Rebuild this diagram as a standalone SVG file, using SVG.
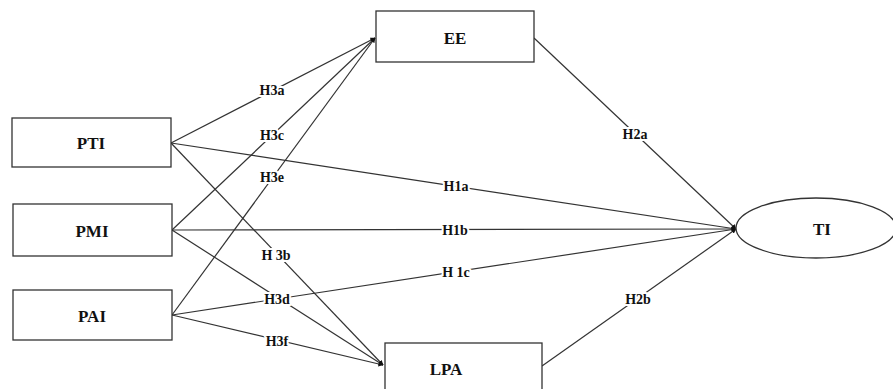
<svg xmlns="http://www.w3.org/2000/svg" width="893" height="389" viewBox="0 0 893 389">
<style>
.box{fill:#fff;stroke:#333;stroke-width:1.3}
.nt{font-family:"Liberation Serif",serif;font-weight:bold;font-size:17px;fill:#111;text-anchor:middle;dominant-baseline:central}
.ln{stroke:#333;stroke-width:1.2;fill:none;marker-end:url(#ah)}
.bg{fill:#fff}
.lb{font-family:"Liberation Serif",serif;font-weight:bold;font-size:14px;fill:#111;text-anchor:middle;dominant-baseline:central;stroke:#fff;stroke-width:4px;paint-order:stroke;stroke-linejoin:round}
</style>
<defs>
<marker id="ah" viewBox="0 0 10 10" refX="9" refY="5" markerWidth="5" markerHeight="5" orient="auto" markerUnits="userSpaceOnUse">
<path d="M0,0 L10,5 L0,10 z" fill="#111"/>
</marker>
</defs>
<rect width="893" height="389" fill="#fff"/>
<g id="connectors">
<line class="ln" x1="171" y1="143" x2="375" y2="38"/>
<line class="ln" x1="171" y1="143" x2="383" y2="365"/>
<line class="ln" x1="171" y1="143" x2="736" y2="229"/>
<line class="ln" x1="172" y1="230" x2="375" y2="38"/>
<line class="ln" x1="172" y1="230" x2="383" y2="365"/>
<line class="ln" x1="172" y1="230" x2="736" y2="229"/>
<line class="ln" x1="172" y1="315" x2="375" y2="38"/>
<line class="ln" x1="172" y1="315" x2="383" y2="365"/>
<line class="ln" x1="172" y1="315" x2="736" y2="229"/>
<line class="ln" x1="534" y1="38" x2="736" y2="229"/>
<line class="ln" x1="542" y1="366" x2="736" y2="229"/>
<rect class="bg" x="262" y="248" width="29" height="14"/>
<rect class="bg" x="443" y="265" width="27" height="14"/>
<text class="lb" x="272" y="90">H3a</text>
<text class="lb" x="272" y="135">H3c</text>
<text class="lb" x="272" y="177">H3e</text>
<text class="lb" x="276" y="255">H 3b</text>
<text class="lb" x="277" y="299">H3d</text>
<text class="lb" x="277" y="341">H3f</text>
<text class="lb" x="456" y="186">H1a</text>
<text class="lb" x="455" y="230">H1b</text>
<text class="lb" x="456" y="272">H 1c</text>
<text class="lb" x="635" y="134">H2a</text>
<text class="lb" x="638" y="299">H2b</text>
</g>
<g id="PTI"><rect class="box" x="12" y="118" width="159" height="49"/><text class="nt" x="91" y="143">PTI</text></g>
<g id="PMI"><rect class="box" x="13" y="204" width="159" height="52"/><text class="nt" x="92" y="231">PMI</text></g>
<g id="PAI"><rect class="box" x="13" y="290" width="159" height="50"/><text class="nt" x="92" y="316">PAI</text></g>
<g id="EE"><rect class="box" x="376" y="11" width="158" height="51"/><text class="nt" x="455" y="38">EE</text></g>
<g id="LPA"><rect class="box" x="385" y="343" width="157" height="50"/><text class="nt" x="446" y="369">LPA</text></g>
<g id="TI"><ellipse class="box" cx="816" cy="228" rx="80" ry="30"/><text class="nt" x="822" y="229">TI</text></g>
</svg>
